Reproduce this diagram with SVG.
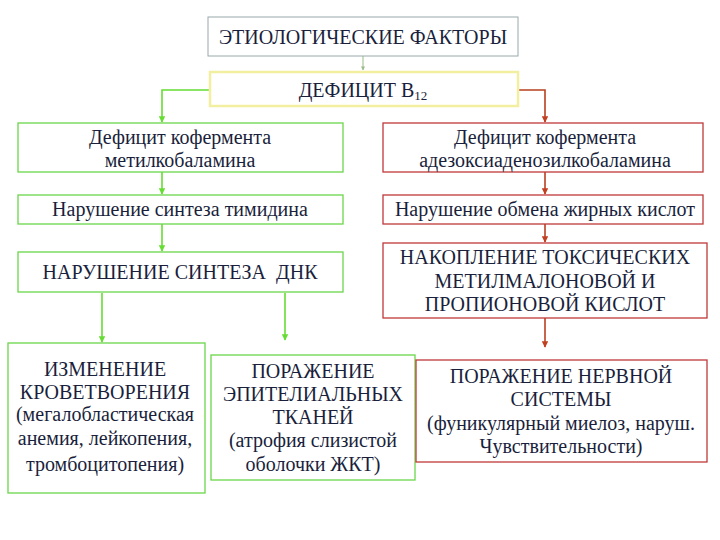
<svg xmlns="http://www.w3.org/2000/svg" width="720" height="540" viewBox="0 0 720 540">
<defs>
<marker id="ag" viewBox="0 0 10 10" refX="9" refY="5" markerWidth="4" markerHeight="4" orient="auto"><path d="M0,0 L10,5 L0,10 z" fill="#66dd33"/></marker>
<marker id="ar" viewBox="0 0 10 10" refX="9" refY="5" markerWidth="4" markerHeight="4" orient="auto"><path d="M0,0 L10,5 L0,10 z" fill="#c04020"/></marker>
<marker id="ay" viewBox="0 0 10 10" refX="9" refY="5" markerWidth="4" markerHeight="4" orient="auto"><path d="M0,0 L10,5 L0,10 z" fill="#99bb88"/></marker>
</defs>
<style>
.g{fill:#ffffff;stroke:#6ad64a;stroke-width:1.3}
.r{fill:#ffffff;stroke:#c0383a;stroke-width:1.3}
.y{fill:#ffffff;stroke:#f2f0a0;stroke-width:2.5}
.k{fill:#ffffff;stroke:#9aa8aa;stroke-width:1}
.lg{fill:none;stroke:#66dd33;stroke-width:1.6}
.lr{fill:none;stroke:#b84020;stroke-width:1.6}
.ly{fill:none;stroke:#99bb88;stroke-width:1}
</style>
<rect width="720" height="540" fill="#ffffff"/>
<g id="connectors">
<path class="ly" d="M363,56 V70" marker-end="url(#ay)"/>
<path class="lg" d="M210,90 H162 V122" marker-end="url(#ag)"/>
<path class="lr" d="M518,90 H545 V122" marker-end="url(#ar)"/>
<path class="lg" d="M162,172 V194" marker-end="url(#ag)"/>
<path class="lr" d="M545,172 V194" marker-end="url(#ar)"/>
<path class="lg" d="M162,224 V251" marker-end="url(#ag)"/>
<path class="lr" d="M545,224 V242" marker-end="url(#ar)"/>
<path class="lg" d="M102,293 V342" marker-end="url(#ag)"/>
<path class="lg" d="M285,293 V340" marker-end="url(#ag)"/>
<path class="lr" d="M545,318 V347" marker-end="url(#ar)"/>
</g>
<g font-family="Liberation Serif, Times New Roman, DejaVu Serif, serif" font-size="20" fill="#1a1f3c" text-anchor="middle">
<g id="n-etio">
<rect class="k" x="208" y="17" width="310" height="39"/>
<text x="363" y="44">ЭТИОЛОГИЧЕСКИЕ ФАКТОРЫ</text>
</g>
<g id="n-b12">
<rect class="y" x="210" y="72" width="308" height="34"/>
<text x="363" y="97">ДЕФИЦИТ В<tspan font-size="13" dy="3">12</tspan></text>
</g>
<g id="n-metil">
<rect class="g" x="18" y="123" width="325" height="49"/>
<text x="180" y="144">Дефицит кофермента</text>
<text x="180" y="167">метилкобаламина</text>
</g>
<g id="n-adeno">
<rect class="r" x="383" y="123" width="320" height="49"/>
<text x="545" y="144">Дефицит кофермента</text>
<text x="545" y="167">адезоксиаденозилкобаламина</text>
</g>
<g id="n-timid">
<rect class="g" x="18" y="195" width="325" height="29"/>
<text x="180" y="216">Нарушение синтеза тимидина</text>
</g>
<g id="n-fat">
<rect class="r" x="383" y="195" width="320" height="29"/>
<text x="545" y="216">Нарушение обмена жирных кислот</text>
</g>
<g id="n-dnk">
<rect class="g" x="18" y="252" width="325" height="40"/>
<text x="180" y="279" xml:space="preserve">НАРУШЕНИЕ СИНТЕЗА  ДНК</text>
</g>
<g id="n-toxic">
<rect class="r" x="383" y="243" width="324" height="75"/>
<text x="545" y="264">НАКОПЛЕНИЕ ТОКСИЧЕСКИХ</text>
<text x="545" y="288">МЕТИЛМАЛОНОВОЙ И</text>
<text x="545" y="311">ПРОПИОНОВОЙ КИСЛОТ</text>
</g>
<g id="n-blood">
<rect class="g" x="8" y="343" width="197" height="150"/>
<text x="105" y="376">ИЗМЕНЕНИЕ</text>
<text x="105" y="399">КРОВЕТВОРЕНИЯ</text>
<text x="105" y="421">(мегалобластическая</text>
<text x="105" y="445">анемия, лейкопения,</text>
<text x="105" y="471">тромбоцитопения)</text>
</g>
<g id="n-epit">
<rect class="g" x="211" y="355" width="204" height="125"/>
<text x="313" y="378">ПОРАЖЕНИЕ</text>
<text x="313" y="401">ЭПИТЕЛИАЛЬНЫХ</text>
<text x="313" y="424">ТКАНЕЙ</text>
<text x="313" y="447">(атрофия слизистой</text>
<text x="313" y="471">оболочки ЖКТ)</text>
</g>
<g id="n-nerv">
<rect class="r" x="416" y="360" width="291" height="102"/>
<text x="561" y="383">ПОРАЖЕНИЕ НЕРВНОЙ</text>
<text x="561" y="406">СИСТЕМЫ</text>
<text x="561" y="430">(фуникулярный миелоз, наруш.</text>
<text x="561" y="453">Чувствительности)</text>
</g>
</g>
</svg>
